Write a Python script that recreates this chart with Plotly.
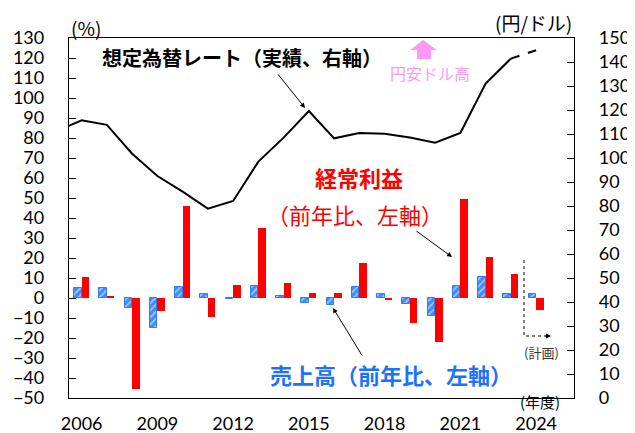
import plotly.graph_objects as go

years = list(range(2006, 2025))
sales_yoy = [5.1, 5.1, -4.9, -14.9, 5.75, 2.25, -0.4, 6.1, 0.9, -2.6,
             -3.4, 5.75, 2.25, -2.9, -8.75, 6.0, 10.6, 2.0, 2.2]
profit_yoy = [10.75, 0.75, -45.4, -6.6, 46.0, -9.6, 6.6, 34.8, 7.75, 2.75,
              2.75, 17.4, -0.75, -12.6, -21.75, 49.3, 20.5, 12.2, -5.9]
fx_years = list(range(2005, 2025))
fx_rate = [111.2, 115.7, 113.8, 101.8, 92.5, 86.0, 78.9, 82.1, 98.5, 108.5,
           119.6, 108.2, 110.4, 110.1, 108.5, 106.4, 110.4, 131.0, 141.4, 144.9]
xtick_years = [2006, 2009, 2012, 2015, 2018, 2021, 2024]

# window is 635x433, page body has an 8px margin -> figure drawn at (8, 8)
WIN_W, WIN_H, OFF = 635, 433, 8
W, H = WIN_W - OFF, WIN_H - OFF
L, R, T, B = 69, 574, 38, 398   # plot area in window pixels


def px(x):
    return (x - L) / (R - L)


def py(y):
    return (B - y) / (B - T)


TICKFONT = dict(family="Lato, Liberation Sans, sans-serif", size=18, color="black")
JP = "Noto Sans CJK JP"

fig = go.Figure()
fig.add_trace(go.Bar(
    x=years, y=sales_yoy, offset=-0.3, width=0.3,
    marker=dict(color="#3d8bff",
                line=dict(color="#2a7cf5", width=1),
                pattern=dict(shape="/", fgcolor="white", bgcolor="#3d8bff",
                             size=5, solidity=0.35)),
    showlegend=False, yaxis="y"))
fig.add_trace(go.Bar(
    x=years, y=profit_yoy, offset=0.0, width=0.3,
    marker=dict(color="#ff0000", line=dict(width=0)),
    showlegend=False, yaxis="y"))
fig.add_trace(go.Scatter(
    x=fx_years[:-1], y=fx_rate[:-1], mode="lines",
    line=dict(color="black", width=2), yaxis="y2", showlegend=False))
fig.add_trace(go.Scatter(
    x=fx_years[-2:], y=fx_rate[-2:], mode="lines",
    line=dict(color="black", width=2, dash="dash"), yaxis="y2", showlegend=False))

xrange = [2005.5, 2025.5]

annotations = [
    dict(text="(%)", x=px(86), y=py(27), font=dict(family=JP, size=19, color="black")),
    dict(text="(円/ドル)", x=px(574), y=py(23), xanchor="right",
         font=dict(family=JP, size=19, color="black")),
    dict(text="<b>想定為替レート（実績、右軸）</b>", x=px(100), y=py(57), xanchor="left",
         font=dict(family=JP, size=20, color="black")),
    dict(text="円安ドル高", x=px(430), y=py(73), font=dict(family=JP, size=16, color="#ff99f5")),
    dict(text="<b>経常利益</b>", x=px(359), y=py(177), font=dict(family=JP, size=22, color="#ff0000")),
    dict(text="（前年比、左軸）", x=px(355), y=py(214), font=dict(family=JP, size=22, color="#ff0000")),
    dict(text="<b>売上高（前年比、左軸）</b>", x=px(391), y=py(374),
         font=dict(family=JP, size=22, color="#1a72ff")),
    dict(text="(計画)", x=px(541), y=py(352), font=dict(family=JP, size=13, color="#333333")),
    dict(text="(年度)", x=px(540), y=py(401), font=dict(family=JP, size=15, color="black")),
]
for a in annotations:
    a.setdefault("xanchor", "center")
    a.update(xref="paper", yref="paper", yanchor="middle", showarrow=False)

arrows = [((277, 73), (305, 108)), ((415, 230), (452, 257)), ((363, 357), (333, 308))]
for (tx, ty), (hx, hy) in arrows:
    annotations.append(dict(text="", xref="paper", yref="paper", x=px(hx), y=py(hy),
                            ax=tx - hx, ay=ty - hy, showarrow=True, arrowhead=2,
                            arrowsize=1, arrowwidth=1, arrowcolor="black"))
annotations.append(dict(text="", xref="paper", yref="paper", x=px(551), y=py(336),
                        ax=-7, ay=0, showarrow=True, arrowhead=2, arrowsize=1,
                        arrowwidth=1, arrowcolor="black"))

shapes = [
    dict(type="path", xref="paper", yref="paper",
         path=(f"M {px(524)} {py(260)} L {px(524)} {py(336)} L {px(546)} {py(336)}"),
         line=dict(color="black", width=1, dash="dot")),
    dict(type="path", xref="paper", yref="paper",
         path=(f"M {px(423)} {py(40)} L {px(437)} {py(50)} L {px(431)} {py(50)} "
               f"L {px(431)} {py(59)} L {px(417)} {py(59)} L {px(417)} {py(50)} "
               f"L {px(410)} {py(50)} Z"),
         fillcolor="#ff99f5", line=dict(width=0)),
]

fig.update_layout(
    width=W, height=H,
    margin=dict(l=L - OFF, r=WIN_W - R, t=T - OFF, b=WIN_H - B, pad=0, autoexpand=False),
    paper_bgcolor="white", plot_bgcolor="white",
    font=dict(family=JP, color="black"),
    barmode="overlay", bargap=0,
    xaxis=dict(range=xrange, tickmode="array", tickvals=xtick_years,
               ticktext=[str(y) for y in xtick_years], ticks="",
               showline=True, linecolor="black", linewidth=1.3, mirror=True,
               showgrid=False, zeroline=False, tickfont=TICKFONT,
               ticklabelstandoff=9, automargin=False),
    xaxis2=dict(range=xrange, overlaying="x", anchor="free", position=50 / 180,
                showline=True, linecolor="#222222", linewidth=1.3,
                tickmode="linear", tick0=2008.5, dtick=3, ticks="inside",
                ticklen=7, tickwidth=1.3, tickcolor="#222222",
                minor=dict(ticks="inside", ticklen=5, tickwidth=1.3, tickcolor="#222222",
                           tickmode="linear", tick0=2005.5, dtick=1, showgrid=False),
                showticklabels=False, showgrid=False, zeroline=False, automargin=False),
    yaxis=dict(range=[-50, 130], tickmode="linear", tick0=-50, dtick=10,
               ticks="inside", ticklen=7, tickwidth=1.3, tickcolor="black",
               showline=True, linecolor="black", linewidth=1.3,
               showgrid=False, zeroline=False, tickfont=TICKFONT,
               ticklabelstandoff=20, automargin=False),
    yaxis2=dict(range=[0, 150], tickmode="linear", tick0=0, dtick=10,
                overlaying="y", side="right", anchor="x",
                ticks="inside", ticklen=7, tickwidth=1.3, tickcolor="black",
                showline=True, linecolor="black", linewidth=1.3,
                showgrid=False, zeroline=False, tickfont=TICKFONT,
                ticklabelstandoff=20, automargin=False),
    annotations=annotations,
    shapes=shapes,
)

fig.write_html("out.html")
